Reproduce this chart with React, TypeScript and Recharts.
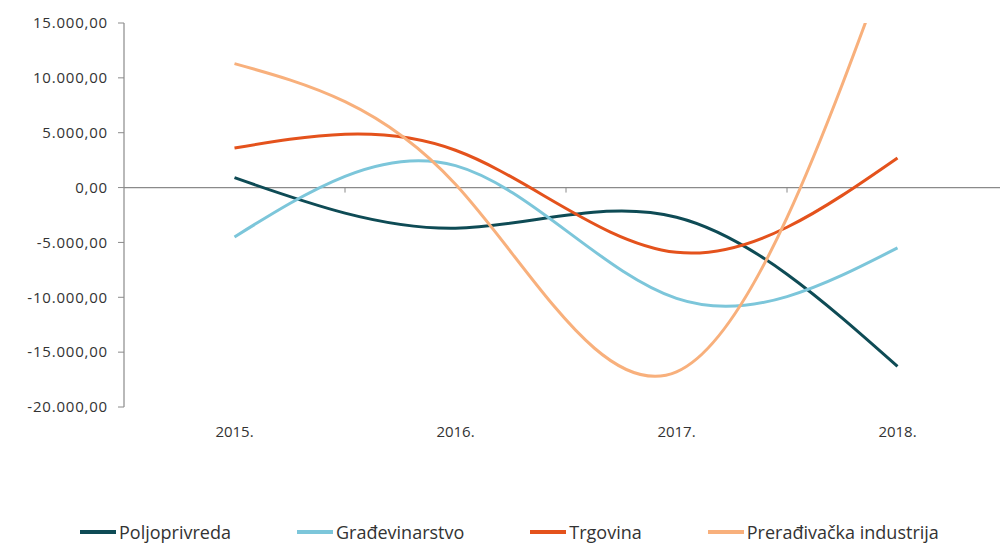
import {
	LineChart,
	Line,
	XAxis,
	YAxis,
	ReferenceLine,
} from "recharts";

const years = ["2015.", "2016.", "2017.", "2018."];
const poljoprivreda = [900, -3700, -2700, -16300];
const gradjevinarstvo = [-4500, 2000, -10100, -5500];
const trgovina = [3600, 3400, -5900, 2700];
const preradjivacka = [11300, 300, -16800, 23000];
const yTicks = [-20000, -15000, -10000, -5000, 0, 5000, 10000, 15000];

const seriesNames = ["Poljoprivreda", "Građevinarstvo", "Trgovina", "Prerađivačka industrija"];
const seriesKeys = ["polj", "grad", "trg", "prer"];
const seriesColors = ["#0e4b55", "#7cc6da", "#e4521c", "#f8b07c"];

const data = years.map((year, i) => ({
	year,
	polj: poljoprivreda[i],
	grad: gradjevinarstvo[i],
	trg: trgovina[i],
	prer: preradjivacka[i],
}));

const FONT = "'Open Sans', sans-serif";

const fmt = new Intl.NumberFormat("de-DE", {
	minimumFractionDigits: 2,
	maximumFractionDigits: 2,
});

// zero line with small ticks at the category boundaries
const ZeroLine = (props: any) => {
	const { x1, x2, y } = props;
	const n = years.length;
	const step = (x2 - x1) / n;
	const ticks = [];
	for (let i = 1; i < n; i++) {
		const x = x1 + step * i;
		ticks.push(<line key={i} x1={x} x2={x} y1={y} y2={y + 5} stroke="#8a8a8a" strokeWidth={1} />);
	}
	return (
		<g>
			<line x1={x1} x2={x2} y1={y} y2={y} stroke="#8a8a8a" strokeWidth={1.2} />
			{ticks}
		</g>
	);
};

export default function App() {
	return (
		<div
			style={{
				position: "fixed",
				left: 0,
				top: 0,
				width: 1000,
				height: 545,
				overflow: "hidden",
				background: "#fff",
				fontFamily: FONT,
			}}
		>
			<LineChart
				width={1010}
				height={545}
				data={data}
				margin={{ top: 23, right: 2, left: 0, bottom: 98 }}
			>
				<XAxis
					dataKey="year"
					axisLine={false}
					tickLine={false}
					tickSize={0}
					tickMargin={19}
					height={40}
					padding={{ left: 110.5, right: 110.5 }}
					tick={{ fill: "#333", fontSize: 15, fontFamily: FONT }}
					interval={0}
				/>
				<YAxis
					width={124}
					domain={[-20000, 15000]}
					ticks={yTicks}
					allowDataOverflow
					tickSize={6}
					tickMargin={10}
					axisLine={{ stroke: "#8a8a8a", strokeWidth: 1.2 }}
					tickLine={{ stroke: "#8a8a8a" }}
					tick={{ fill: "#333", fontSize: 15, fontFamily: FONT, letterSpacing: 0.8 }}
					tickFormatter={(v: number) => fmt.format(v)}
				/>
				<ReferenceLine
					y={0}
					shape={(p: any) => (
						<ZeroLine x1={p.x1} x2={p.x2} y={p.y1} />
					)}
				/>
				{seriesKeys.map((key, i) => (
					<Line
						key={key}
						type="natural"
						dataKey={key}
						name={seriesNames[i]}
						stroke={seriesColors[i]}
						strokeWidth={3}
						dot={false}
						activeDot={false}
						isAnimationActive={false}
					/>
				))}
			</LineChart>
			<div
				style={{
					position: "absolute",
					left: 80,
					top: 521,
					display: "flex",
					gap: 66,
					fontSize: 18,
					lineHeight: "22px",
					color: "#333",
					whiteSpace: "nowrap",
				}}
			>
				{seriesNames.map((name, i) => (
					<div key={name} style={{ display: "flex", alignItems: "center" }}>
						<span
							style={{
								display: "inline-block",
								width: 36,
								height: 4,
								background: seriesColors[i],
								marginRight: 3,
							}}
						/>
						<span>{name}</span>
					</div>
				))}
			</div>
		</div>
	);
}
